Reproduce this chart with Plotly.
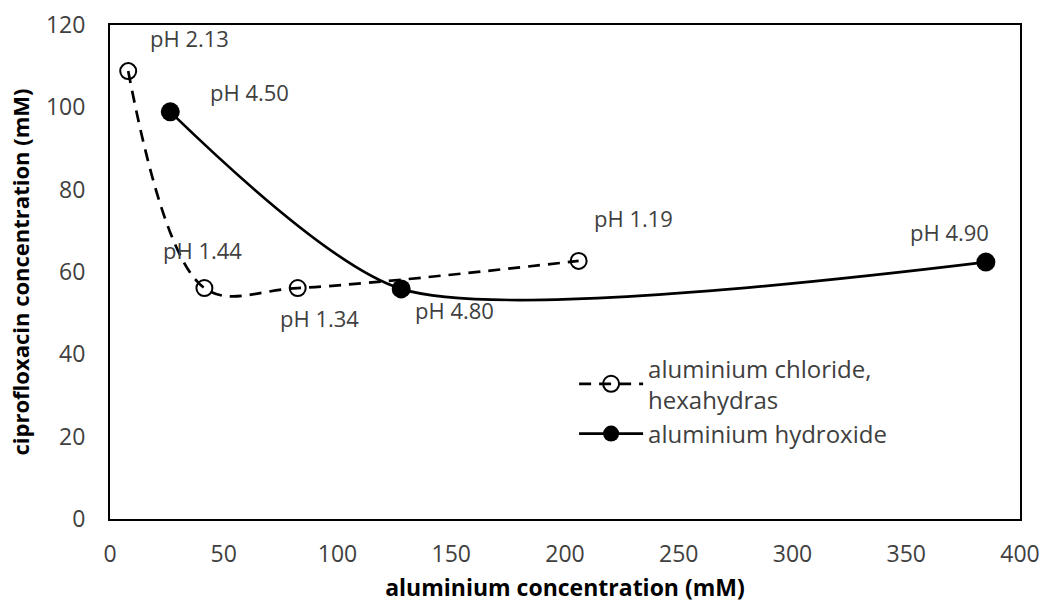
import plotly.graph_objects as go

chloride_x = [8, 41.5, 82.5, 206]
chloride_y = [108.8, 56.1, 56.1, 62.7]
hydroxide_x = [26.5, 128, 385]
hydroxide_y = [98.9, 55.9, 62.4]

labels = ["pH 2.13", "pH 4.50", "pH 1.44", "pH 1.34", "pH 4.80", "pH 1.19", "pH 4.90"]
label_x = [35, 61.5, 40.7, 92.3, 151.6, 230, 368.8]
label_y = [116.8, 103.7, 65.3, 48.8, 50.8, 73.1, 69.7]

FONT = "Open Sans"
TXT = "#404040"

fig = go.Figure()
fig.add_trace(go.Scatter(
    x=chloride_x, y=chloride_y, mode="lines+markers",
    name="aluminium chloride,<br>hexahydras",
    line=dict(color="black", width=2.7, dash="12px,8px", shape="spline", smoothing=1),
    marker=dict(symbol="circle-open", size=16, color="black", line=dict(width=2, color="black")),
))
fig.add_trace(go.Scatter(
    x=hydroxide_x, y=hydroxide_y, mode="lines+markers",
    name="aluminium hydroxide",
    line=dict(color="black", width=2.7, shape="spline", smoothing=0.7),
    marker=dict(symbol="circle", size=19, color="black"),
))

for t, xx, yy in zip(labels, label_x, label_y):
    fig.add_annotation(x=xx, y=yy, text=t, showarrow=False,
                       font=dict(family=FONT, size=22, color=TXT))

fig.update_layout(
    width=1042, height=603,
    margin=dict(l=110, r=22, t=25, b=84),
    plot_bgcolor="white", paper_bgcolor="white",
    font=dict(family=FONT, size=22, color=TXT),
    legend=dict(x=0.51, y=0.35, xanchor="left", yanchor="top",
                font=dict(family=FONT, size=24, color=TXT),
                itemwidth=64,
                bgcolor="rgba(0,0,0,0)", tracegroupgap=8),
    xaxis=dict(range=[0, 400], tickvals=[0, 50, 100, 150, 200, 250, 300, 350, 400],
               showgrid=False, zeroline=False, showline=True, linecolor="black", linewidth=2,
               mirror=True, ticks="", ticklen=0, ticklabelstandoff=13, automargin=False,
               tickfont=dict(family=FONT, size=23, color=TXT),
               title=dict(text="<b>aluminium concentration (mM)</b>", standoff=16,
                          font=dict(family=FONT, size=23, color="black"))),
    yaxis=dict(range=[0, 120], tickvals=[0, 20, 40, 60, 80, 100, 120],
               showgrid=False, zeroline=False, showline=True, linecolor="black", linewidth=2,
               mirror=True, ticks="", ticklen=0, ticklabelstandoff=18, automargin=False,
               tickfont=dict(family=FONT, size=23, color=TXT),
               title=dict(text="<b>ciprofloxacin concentration (mM)</b>", standoff=10,
                          font=dict(family=FONT, size=22, color="black"))),
)

fig.write_html("out.html")
